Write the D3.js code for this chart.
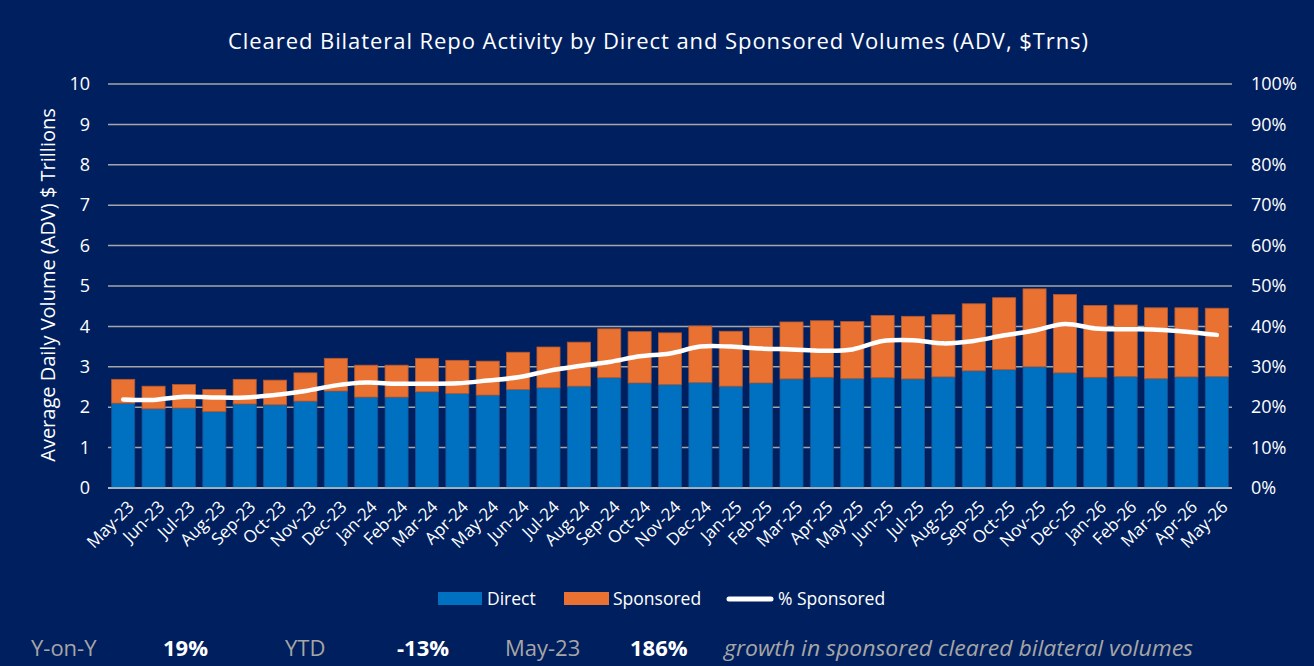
<!DOCTYPE html>
<html>
<head>
<meta charset="utf-8">
<script src="https://cdn.jsdelivr.net/npm/d3@7"></script>
<style>
  body { margin: 0; background: #001F5F; }
  svg { display: block; }
</style>
</head>
<body>
<div id="chart"></div>
<script>
// chart data
const months = ["May-23","Jun-23","Jul-23","Aug-23","Sep-23","Oct-23","Nov-23","Dec-23",
  "Jan-24","Feb-24","Mar-24","Apr-24","May-24","Jun-24","Jul-24","Aug-24","Sep-24","Oct-24","Nov-24","Dec-24",
  "Jan-25","Feb-25","Mar-25","Apr-25","May-25","Jun-25","Jul-25","Aug-25","Sep-25","Oct-25","Nov-25","Dec-25",
  "Jan-26","Feb-26","Mar-26","Apr-26","May-26"];

// direct volumes ($Trn)
const direct = [2.10,1.96,1.98,1.89,2.08,2.06,2.15,2.40,2.25,2.25,2.38,2.34,2.30,2.44,2.48,2.52,2.73,2.60,2.56,2.61,
  2.52,2.60,2.70,2.74,2.71,2.73,2.70,2.75,2.90,2.93,3.00,2.85,2.74,2.76,2.71,2.75,2.76];

// total (direct + sponsored) bar tops
const total = [2.69,2.52,2.56,2.44,2.69,2.67,2.85,3.21,3.04,3.04,3.21,3.16,3.14,3.36,3.49,3.61,3.94,3.87,3.84,4.01,
  3.88,3.97,4.11,4.14,4.12,4.27,4.25,4.29,4.56,4.71,4.93,4.79,4.52,4.53,4.46,4.46,4.45];

// % sponsored line
const pctSponsored = [21.9,21.8,22.6,22.4,22.4,23.0,24.0,25.4,26.1,25.8,25.8,25.9,26.6,27.4,29.0,30.2,31.2,32.6,33.3,35.0,
  35.0,34.5,34.3,34.0,34.3,36.4,36.6,35.8,36.4,37.8,39.0,40.6,39.5,39.3,39.2,38.7,37.9];

const leftTicks = [0,1,2,3,4,5,6,7,8,9,10];
const rightTicks = [0,10,20,30,40,50,60,70,80,90,100];

const stats = [
  {label: "Y-on-Y", value: "19%"},
  {label: "YTD", value: "-13%"},
  {label: "May-23", value: "186%"}
];
const note = "growth in sponsored cleared bilateral volumes";

const W = 1314, H = 666;
const m = {top: 84, left: 108, right: 82, bottom: 178};
const FONT = "'Open Sans', 'Noto Sans', sans-serif";

let svg = d3.select("#chart").append("svg")
  .attr("width", W).attr("height", H)
  .style("font-family", FONT);

svg.append("rect").attr("width", W).attr("height", H).attr("fill", "#001F5F");

let x = d3.scaleBand().domain(months).range([m.left, W - m.right]).paddingInner(0.24).paddingOuter(0.12);
let y = d3.scaleLinear().domain([0, 10]).range([H - m.bottom, m.top]);
let y2 = d3.scaleLinear().domain([0, 100]).range([H - m.bottom, m.top]);

// title
svg.append("text")
  .attr("x", 658).attr("y", 49)
  .attr("text-anchor", "middle")
  .attr("fill", "#fff")
  .style("font-size", "22px")
  .attr("textLength", 860)
  .attr("lengthAdjust", "spacing")
  .text("Cleared Bilateral Repo Activity by Direct and Sponsored Volumes (ADV, $Trns)");

// gridlines
svg.append("g").selectAll("line")
  .data(leftTicks)
  .enter().append("line")
  .attr("x1", m.left).attr("x2", W - m.right)
  .attr("y1", d => y(d)).attr("y2", d => y(d))
  .attr("stroke", "#A6A6A6")
  .attr("stroke-width", 1.5);

// left axis
let yAxis = svg.append("g")
  .attr("transform", `translate(${m.left},0)`)
  .call(d3.axisLeft(y).tickValues(leftTicks).tickSize(0).tickPadding(18));
yAxis.select(".domain").remove();
yAxis.selectAll("text").attr("fill", "#fff").style("font-size", "18px").style("font-family", FONT);

// right axis
let y2Axis = svg.append("g")
  .attr("transform", `translate(${W - m.right},0)`)
  .call(d3.axisRight(y2).tickValues(rightTicks).tickSize(0).tickPadding(19).tickFormat(d => d + "%"));
y2Axis.select(".domain").remove();
y2Axis.selectAll("text").attr("fill", "#fff").style("font-size", "18px").style("font-family", FONT);

// y axis title
svg.append("text")
  .attr("transform", `translate(55,${(y(0) + y(10)) / 2 - 1}) rotate(-90)`)
  .attr("text-anchor", "middle")
  .attr("fill", "#fff")
  .style("font-size", "20px")
  .text("Average Daily Volume (ADV) $ Trillions");

// bars
let bars = svg.append("g");
bars.selectAll(".direct")
  .data(months)
  .enter().append("rect")
  .attr("class", "direct")
  .attr("x", d => x(d))
  .attr("width", x.bandwidth())
  .attr("y", (d, i) => y(direct[i]))
  .attr("height", (d, i) => y(0) - y(direct[i]))
  .attr("fill", "#0070C0")
  .attr("stroke", "#1A4F8F")
  .attr("stroke-width", 0.8);

bars.selectAll(".spons")
  .data(months)
  .enter().append("rect")
  .attr("class", "spons")
  .attr("x", d => x(d))
  .attr("width", x.bandwidth())
  .attr("y", (d, i) => y(total[i]))
  .attr("height", (d, i) => y(direct[i]) - y(total[i]))
  .attr("fill", "#E97132")
  .attr("stroke", "#B5592E")
  .attr("stroke-width", 0.8);

// baseline
svg.append("line")
  .attr("x1", m.left).attr("x2", W - m.right)
  .attr("y1", y(0)).attr("y2", y(0))
  .attr("stroke", "#C8C8C8").attr("stroke-width", 1.5);

// % sponsored line
let line = d3.line()
  .x((d, i) => x(months[i]) + x.bandwidth() / 2)
  .y(d => y2(d))
  .curve(d3.curveCatmullRom.alpha(0.5));

svg.append("path")
  .attr("d", line(pctSponsored))
  .attr("fill", "none")
  .attr("stroke", "#fff")
  .attr("stroke-width", 4.5)
  .attr("stroke-linecap", "round");

// x labels
svg.append("g").selectAll("text")
  .data(months)
  .enter().append("text")
  .attr("transform", d => `translate(${x(d) + x.bandwidth() / 2 + 12},${y(0) + 20}) rotate(-45)`)
  .attr("text-anchor", "end")
  .attr("fill", "#fff")
  .style("font-size", "17px")
  .text(d => d);

// legend
let legend = svg.append("g").attr("transform", "translate(0,599)");
legend.append("rect").attr("x", 438).attr("y", -7).attr("width", 44).attr("height", 13).attr("fill", "#0070C0");
legend.append("text").attr("x", 487).attr("y", 6).attr("fill", "#fff").style("font-size", "17.5px").text("Direct");
legend.append("rect").attr("x", 564).attr("y", -7).attr("width", 45).attr("height", 13).attr("fill", "#E97132");
legend.append("text").attr("x", 613).attr("y", 6).attr("fill", "#fff").style("font-size", "17.5px").text("Sponsored");
legend.append("line").attr("x1", 729).attr("x2", 771).attr("y1", 0).attr("y2", 0)
  .attr("stroke", "#fff").attr("stroke-width", 5).attr("stroke-linecap", "round");
legend.append("text").attr("x", 778).attr("y", 6).attr("fill", "#fff").style("font-size", "17.5px").text("% Sponsored");

// bottom stats row
let labelX = [31, 285, 505];
let valueX = [163, 397, 630];
let statRow = svg.append("g").style("font-size", "22px");
statRow.selectAll(".lab")
  .data(stats)
  .enter().append("text")
  .attr("x", (d, i) => labelX[i]).attr("y", 656)
  .attr("fill", "#A6A6A6")
  .text(d => d.label);
statRow.selectAll(".val")
  .data(stats)
  .enter().append("text")
  .attr("x", (d, i) => valueX[i]).attr("y", 656)
  .attr("fill", "#fff")
  .style("font-weight", "bold")
  .text(d => d.value);
statRow.append("text")
  .attr("x", 724).attr("y", 656)
  .attr("fill", "#A6A6A6")
  .style("font-style", "italic")
  .attr("textLength", 469)
  .attr("lengthAdjust", "spacingAndGlyphs")
  .text(note);
</script>
</body>
</html>
